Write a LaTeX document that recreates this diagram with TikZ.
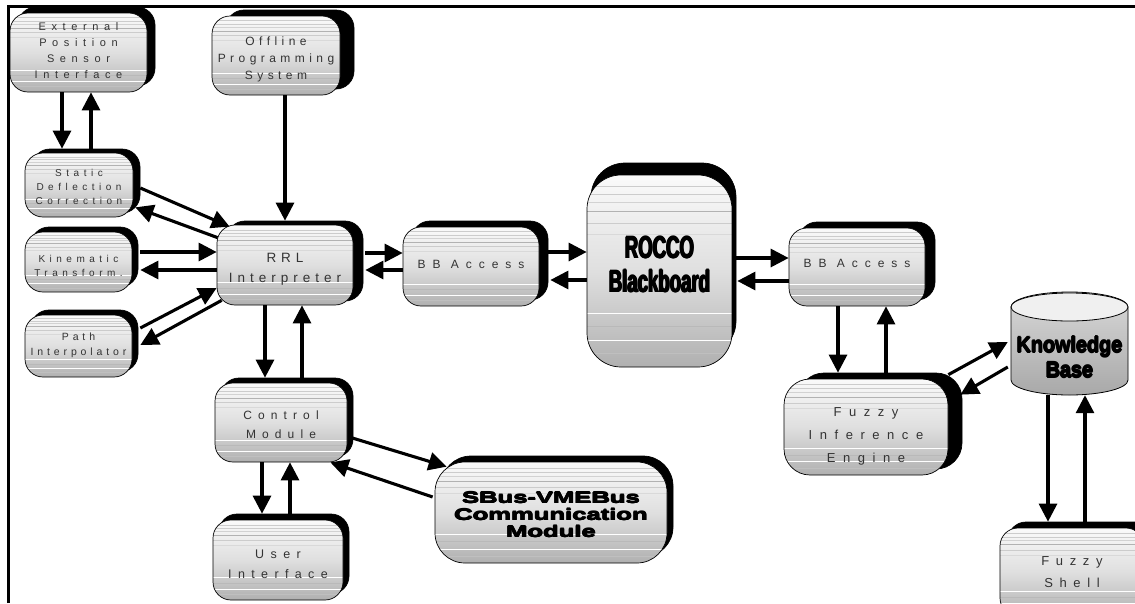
\documentclass[tikz,border=0pt]{standalone}
\usepackage{fontspec}
\setmainfont{Liberation Sans}
\newfontfamily\spa[LetterSpace=37]{Liberation Sans}
\newfontfamily\spb[LetterSpace=45]{Liberation Sans}
\newfontfamily\spc[LetterSpace=51]{Liberation Sans}
\newfontfamily\spd[LetterSpace=58]{Liberation Sans}
\newfontfamily\roccofont[FakeStretch=0.6]{Liberation Sans Bold}
\newfontfamily\sbusfont[FakeStretch=1.6]{Liberation Sans Bold}
\newfontfamily\kbfont[FakeStretch=0.9]{Liberation Sans Bold}
\usetikzlibrary{arrows.meta,shadows,calc}
\newdimen\fatd
\newcommand\fat[1]{\leavevmode\rlap{\kern\fatd#1}\rlap{\kern-\fatd#1}\rlap{\raisebox{\fatd}{#1}}\rlap{\raisebox{-\fatd}{#1}}#1}
\newcommand\tx[4]{\raisebox{#1}[0pt][0pt]{\fontsize{#2}{#3}\selectfont\begin{tabular}{@{}c@{}}#4\end{tabular}}}
\newcommand\stripes{%
  \foreach \f/\c in {0.06/gray!40,0.10/gray!40,0.14/gray!35,0.19/gray!60,0.25/gray!40,0.31/gray!30,0.72/white,0.79/gray!55,0.86/white,0.93/gray!50}{%
    \draw[\c, line width=0.6pt] ($(path picture bounding box.north west)!\f!(path picture bounding box.south west)$) -- ($(path picture bounding box.north east)!\f!(path picture bounding box.south east)$);}}
\tikzset{
  rbox/.style={draw=black, line width=0.7pt, rounded corners=#1, top color=gray!4, bottom color=gray!62, middle color=gray!25, inner sep=0pt, text=black!80, font=\spb, path picture={\stripes}},
  rbox/.default=18pt,
  shad/.style 2 args={general shadow={fill=black, draw=black, shadow xshift=#1pt, shadow yshift=#2pt}},
  arr/.style={line width=3.1pt, -{Triangle[length=18pt,width=18pt]}},
  frameline/.style={line width=2.5pt},
}
\begin{document}
\begin{tikzpicture}[x=1pt,y=-1pt]
\useasboundingbox (0,0) rectangle (1135,603);
\fill[white] (0,0) rectangle (1135,603);
\draw[frameline] (8.5,603) -- (8.5,6.5) -- (1135,6.5);

% boxes
\node[rbox, shad={8}{6}, minimum width=137pt, minimum height=79pt, font=\spc] (ext) at (78.5,52.5) {\tx{-1.75pt}{11}{16}{External\\Position\\Sensor\\Interface}};
\node[rbox, shad={14}{6}, minimum width=128pt, minimum height=79pt, font=\spa] (off) at (276,55.5) {\tx{-7pt}{12}{17}{Offline\\Programming\\System}};
\node[rbox, shad={7}{4}, minimum width=108pt, minimum height=64pt, font=\spb] (sdc) at (79,185) {\tx{-5.5pt}{10}{14}{Static\\Deflection\\Correction}};
\node[rbox, shad={6}{5}, minimum width=107pt, minimum height=60pt, font=\spb] (kin) at (78.5,262) {\tx{-7.5pt}{10}{14}{Kinematic\\Transform.}};
\node[rbox, shad={6}{5}, minimum width=107pt, minimum height=62pt, font=\spa] (pint) at (78.5,346) {\tx{-2.1pt}{10.5}{15}{Path\\Interpolator}};
\node[rbox, shad={10}{4}, minimum width=136pt, minimum height=80pt, font=\spa] (rrl) at (285,265) {\tx{-7.4pt}{13.5}{20}{RRL\\Interpreter}};
\node[rbox, shad={6}{5}, minimum width=132pt, minimum height=79pt, font=\spc] (ctl) at (281,422.5) {\tx{-6pt}{12}{19}{Control\\Module}};
\node[rbox, shad={6}{6}, minimum width=130pt, minimum height=80pt, font=\spc] (usr) at (278,560) {\tx{-7.1pt}{12.5}{20}{User\\Interface}};
\node[rbox=30pt, shad={6}{6}, minimum width=232pt, minimum height=101pt, font=\sbusfont, text=black] (sbus) at (551,512.5) {\fatd=0.55pt\tx{-8.5pt}{16}{15.5}{\fat{SBus-VMEBus}\\\fat{Communication}\\\fat{Module}}};
\node[rbox, shad={9}{6}, minimum width=136pt, minimum height=79pt, font=\spd] (bbl) at (471,266.5) {\tx{-1.5pt}{12}{16}{BB Access}};
\node[rbox=34pt, shad={4}{12}, minimum width=145pt, minimum height=192pt, font=\roccofont, text=black] (rocco) at (659.5,271) {\fatd=0.8pt\tx{-3.5pt}{31}{34}{\fat{ROCCO}\\\fat{Blackboard}}};
\node[rbox, shad={10}{6}, minimum width=136pt, minimum height=78pt, font=\spd] (bbr) at (857,267) {\tx{0pt}{12}{16}{BB Access}};
\node[rbox=26pt, shad={14}{6}, minimum width=164pt, minimum height=96pt, font=\spd] (fie) at (866,427) {\tx{-10.4pt}{13}{23}{Fuzzy\\Inference\\Engine}};
\node[rbox, shad={8}{6}, minimum width=144pt, minimum height=88pt, font=\spc] (fsh) at (1072,572) {\tx{-3.25pt}{13}{22}{Fuzzy\\Shell}};

% knowledge base cylinder
\path[draw=black, line width=0.8pt, top color=gray!30, bottom color=gray!68]
  (1011,307) -- (1011,380) arc[start angle=180, end angle=0, x radius=58.5, y radius=15]
  -- (1128,307) arc[start angle=0, end angle=-180, x radius=58.5, y radius=15] -- cycle;
\draw[line width=0.8pt, fill=gray!12] (1069.5,307) ellipse[x radius=58.5, y radius=14];
\node[inner sep=0pt, minimum width=117pt, minimum height=103pt, font=\kbfont, text=black] (kb) at (1069.5,343.5) {\fatd=0.7pt\tx{-21.5pt}{22}{25}{\fat{Knowledge}\\\fat{Base}}};

% connectors
\draw[arr] ([shift={(-16.5,0)}]ext.south) -- ([shift={(-17,-4)}]sdc.north);
\draw[arr] ([shift={(12,-4)}]sdc.north) -- ([shift={(12.5,0)}]ext.south);
\draw[arr] (off.south -| rrl.north) -- ([shift={(0,-4)}]rrl.north);
\draw[arr] ([shift={(7,3)}]sdc.east) -- ([shift={(13,2)}]rrl.north west);
\draw[arr] ([shift={(1,13)}]rrl.north west) -- ([shift={(2,-10)}]sdc.south east);
\draw[arr] ([shift={(8,-10)}]kin.east) -- ([shift={(0,-13)}]rrl.west);
\draw[arr] ([shift={(0,5)}]rrl.west) -- ([shift={(8,8)}]kin.east);
\draw[arr] ([shift={(8,-18)}]pint.east) -- ([shift={(0,23)}]rrl.west);
\draw[arr] ([shift={(5,-5)}]rrl.south west) -- ([shift={(8,-1)}]pint.east);
\draw[arr] ([shift={(-20,0)}]rrl.south) -- ([shift={(-16,-5)}]ctl.north);
\draw[arr] ([shift={(21,-5)}]ctl.north) -- ([shift={(17,0)}]rrl.south);
\draw[arr] ([shift={(12,-12)}]rrl.east) -- ([shift={(0,-13.5)}]bbl.west);
\draw[arr] ([shift={(0,3.5)}]bbl.west) -- ([shift={(12,5)}]rrl.east);
\draw[arr] ([shift={(9,-14.5)}]bbl.east) -- ([shift={(0,-19)}]rocco.west);
\draw[arr] ([shift={(0,9)}]rocco.west) -- ([shift={(11,13.5)}]bbl.east);
\draw[arr] ([shift={(4,-13)}]rocco.east) -- ([shift={(0,-9)}]bbr.west);
\draw[arr] ([shift={(0,14)}]bbr.west) -- ([shift={(5,10)}]rocco.east);
\draw[arr] ([shift={(-19,0)}]bbr.south) -- ([shift={(-28,-6)}]fie.north);
\draw[arr] ([shift={(20,-6)}]fie.north) -- ([shift={(29,0)}]bbr.south);
\draw[arr] ([shift={(0,-4)}]fie.north east) -- ([shift={(-3,-1.5)}]kb.west);
\draw[arr] ([shift={(-3,23.5)}]kb.west) -- ([shift={(12,16)}]fie.north east);
\draw[arr] ([shift={(-21.5,0)}]kb.south) -- ([shift={(-24,-6)}]fsh.north);
\draw[arr] ([shift={(13,-6)}]fsh.north) -- ([shift={(15.5,0)}]kb.south);
\draw[arr] ([shift={(5,15.5)}]ctl.east) -- ([shift={(12,5)}]sbus.north west);
\draw[arr] ([shift={(-2,-15.5)}]sbus.west) -- ([shift={(-17,0)}]ctl.south east);
\draw[arr] ([shift={(-19,0)}]ctl.south) -- ([shift={(-16,-6)}]usr.north);
\draw[arr] ([shift={(12,-6)}]usr.north) -- ([shift={(9,0)}]ctl.south);
\end{tikzpicture}
\end{document}
